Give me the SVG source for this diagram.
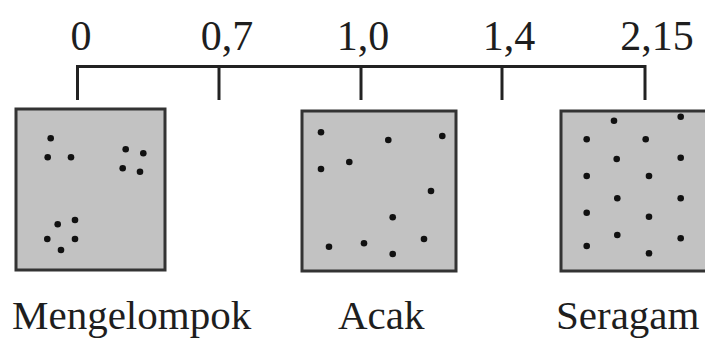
<svg xmlns="http://www.w3.org/2000/svg" width="705" height="340" viewBox="0 0 705 340">
<style>
.lbl{font-family:"Liberation Serif","Times New Roman",serif;font-size:42px;fill:#1e1e1e}
.bl{font-size:41px}
.box{fill:#c2c2c2;stroke:#333;stroke-width:3}
.ax{stroke:#222;stroke-width:3;fill:none}
.d{fill:#111}
</style>
<rect width="705" height="340" fill="#fff"/>
<g id="scale-labels" class="lbl" text-anchor="middle">
<text x="81" y="50">0</text>
<text x="227" y="50">0,7</text>
<text x="363" y="50">1,0</text>
<text x="509" y="50">1,4</text>
<text x="657" y="50">2,15</text>
</g>
<g id="connectors" class="ax">
<path d="M77.5 100 V66.5 H645 V100"/>
<path d="M219 66.5 V100"/>
<path d="M361 66.5 V100"/>
<path d="M502 66.5 V100"/>
</g>
<g id="mengelompok">
<rect class="box" x="16" y="109" width="149" height="161"/>
<g class="d">
<circle cx="50.7" cy="138.3" r="3.3"/><circle cx="47.7" cy="157.3" r="3.3"/><circle cx="71" cy="157.3" r="3.3"/>
<circle cx="125.7" cy="149.3" r="3.3"/><circle cx="143.3" cy="153.3" r="3.3"/><circle cx="122.7" cy="168.3" r="3.3"/><circle cx="140" cy="171.7" r="3.3"/>
<circle cx="75" cy="220" r="3.3"/><circle cx="57.7" cy="224.3" r="3.3"/><circle cx="47.3" cy="239" r="3.3"/><circle cx="75" cy="239" r="3.3"/><circle cx="61" cy="250" r="3.3"/>
</g>
<text class="lbl bl" x="12" y="329">Mengelompok</text>
</g>
<g id="acak">
<rect class="box" x="302" y="111" width="154" height="160"/>
<g class="d">
<circle cx="321" cy="132.3" r="3.3"/><circle cx="388.3" cy="140" r="3.3"/><circle cx="442.3" cy="136" r="3.3"/>
<circle cx="349.3" cy="162" r="3.3"/><circle cx="321" cy="169" r="3.3"/><circle cx="431" cy="191" r="3.3"/>
<circle cx="392.7" cy="217.3" r="3.3"/><circle cx="329" cy="246.7" r="3.3"/><circle cx="364" cy="243.3" r="3.3"/>
<circle cx="424" cy="239" r="3.3"/><circle cx="392.7" cy="254" r="3.3"/>
</g>
<text class="lbl bl" x="338" y="329">Acak</text>
</g>
<g id="seragam">
<rect class="box" x="561" y="111" width="160" height="160"/>
<g class="d">
<circle cx="614" cy="120.7" r="3.3"/><circle cx="680.7" cy="116.7" r="3.3"/>
<circle cx="586.7" cy="139.3" r="3.3"/><circle cx="645.7" cy="139.3" r="3.3"/>
<circle cx="616.7" cy="159" r="3.3"/><circle cx="680.7" cy="157.7" r="3.3"/>
<circle cx="586.7" cy="176" r="3.3"/><circle cx="649" cy="176" r="3.3"/>
<circle cx="617.3" cy="198.3" r="3.3"/><circle cx="680.7" cy="198.3" r="3.3"/>
<circle cx="586.7" cy="212.7" r="3.3"/><circle cx="649" cy="216.7" r="3.3"/>
<circle cx="617.3" cy="235" r="3.3"/><circle cx="680.7" cy="238.3" r="3.3"/>
<circle cx="586.7" cy="246" r="3.3"/><circle cx="649" cy="253.3" r="3.3"/>
</g>
<text class="lbl bl" x="556" y="329">Seragam</text>
</g>
</svg>
